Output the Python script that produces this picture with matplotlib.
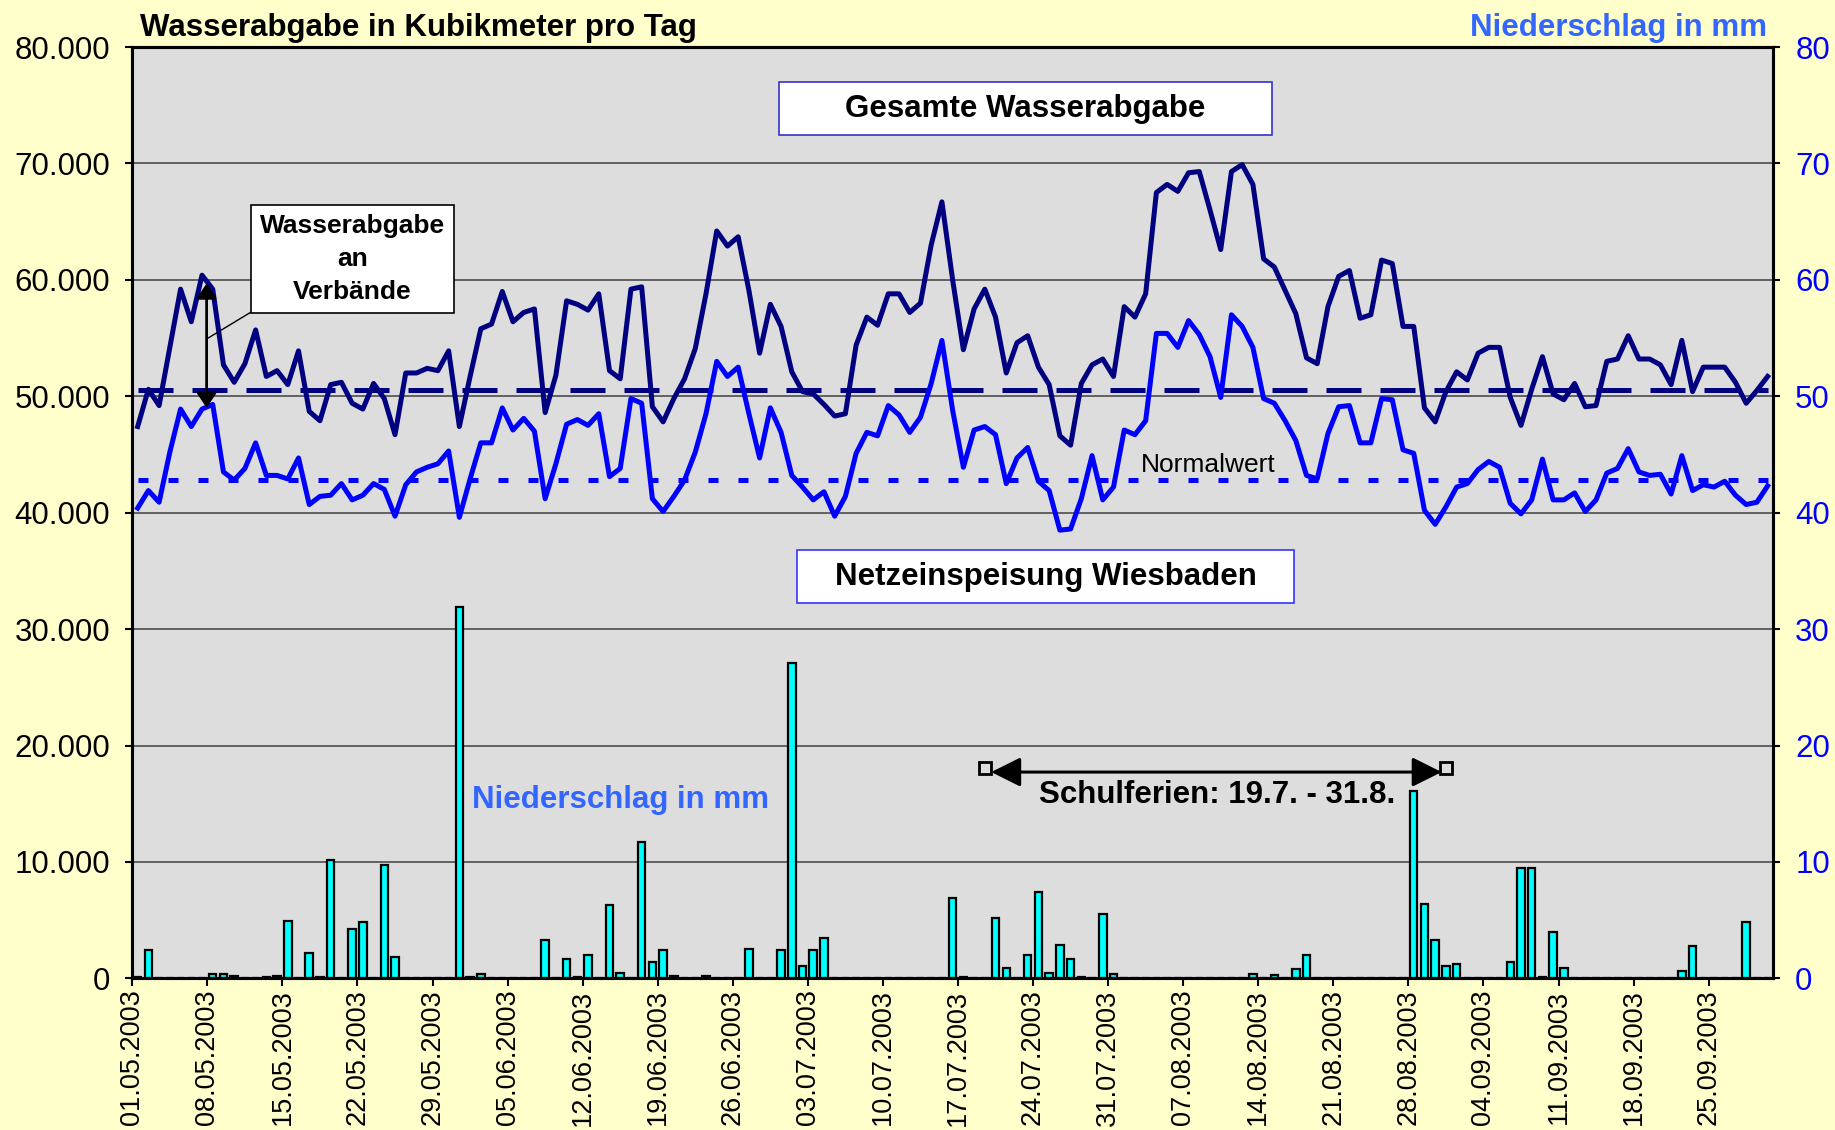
import numpy as np
import pandas as pd
import matplotlib
matplotlib.use('Agg')
import matplotlib.pyplot as plt
from matplotlib.patches import Rectangle, FancyArrowPatch
from matplotlib.ticker import FuncFormatter
from matplotlib.transforms import ScaledTranslation

plt.rcParams['font.family'] = ['Liberation Sans', 'DejaVu Sans']

# daily values 01.05.2003 - 30.09.2003 (one row per week)
gesamt = [
    47400, 50600, 49200, 54200, 59200, 56400, 60400,
    59200, 52700, 51200, 52800, 55700, 51700, 52200,
    51000, 53900, 48700, 47900, 51000, 51200, 49400,
    48900, 51100, 49800, 46700, 52000, 52000, 52400,
    52200, 53900, 47400, 51700, 55800, 56200, 59000,
    56400, 57200, 57500, 48600, 51800, 58200, 57900,
    57400, 58800, 52200, 51500, 59200, 59400, 49100,
    47800, 49800, 51500, 54100, 58800, 64200, 62900,
    63700, 59100, 53700, 57900, 56000, 52100, 50400,
    50200, 49300, 48300, 48500, 54400, 56800, 56100,
    58800, 58800, 57200, 58000, 63000, 66700, 60000,
    54000, 57500, 59200, 56800, 52000, 54600, 55200,
    52500, 51000, 46600, 45800, 51100, 52700, 53200,
    51700, 57700, 56800, 58800, 67500, 68200, 67600,
    69200, 69300, 66000, 62600, 69300, 69900, 68200,
    61800, 61100, 59100, 57100, 53300, 52800, 57700,
    60300, 60800, 56700, 57000, 61700, 61400, 56000,
    56000, 49000, 47800, 50400, 52100, 51400, 53700,
    54200, 54200, 49900, 47500, 50600, 53400, 50200,
    49700, 51100, 49100, 49200, 53000, 53200, 55200,
    53200, 53200, 52700, 51000, 54800, 50400, 52500,
    52500, 52500, 51200, 49400, 50500, 51700,
]

netz = [
    40400, 41900, 40900, 45200, 48900, 47400, 48900,
    49300, 43500, 42800, 43800, 46000, 43200, 43200,
    42900, 44700, 40700, 41400, 41500, 42500, 41100,
    41500, 42500, 42000, 39700, 42400, 43500, 43900,
    44200, 45300, 39600, 42900, 46000, 46000, 49000,
    47100, 48100, 47000, 41200, 44200, 47600, 48000,
    47500, 48500, 43100, 43800, 49800, 49400, 41200,
    40100, 41400, 42800, 45200, 48500, 53000, 51700,
    52500, 48500, 44700, 49000, 46900, 43200, 42200,
    41100, 41800, 39700, 41400, 45100, 46900, 46600,
    49200, 48400, 46900, 48200, 51100, 54800, 48800,
    43900, 47100, 47400, 46700, 42500, 44700, 45600,
    42700, 41900, 38500, 38600, 41200, 44900, 41100,
    42200, 47100, 46700, 47900, 55400, 55400, 54200,
    56500, 55300, 53400, 49900, 57000, 56000, 54200,
    49800, 49400, 47900, 46200, 43200, 42900, 46800,
    49100, 49200, 46000, 46000, 49800, 49700, 45400,
    45100, 40200, 39000, 40500, 42200, 42500, 43700,
    44400, 43900, 40800, 39900, 41100, 44600, 41100,
    41100, 41700, 40100, 41100, 43400, 43800, 45500,
    43500, 43200, 43300, 41600, 44900, 41900, 42400,
    42200, 42700, 41500, 40700, 40900, 42300,
]

niederschlag = [
    0.1, 2.4, 0, 0, 0, 0, 0,
    0.4, 0.4, 0.2, 0, 0, 0.1, 0.2,
    4.9, 0, 2.2, 0.1, 10.2, 0, 4.2,
    4.8, 0, 9.7, 1.8, 0, 0, 0,
    0, 0, 31.9, 0.1, 0.4, 0, 0,
    0, 0, 0, 3.3, 0, 1.7, 0.1,
    2.0, 0, 6.3, 0.5, 0, 11.7, 1.4,
    2.4, 0.2, 0, 0, 0.2, 0, 0,
    0, 2.5, 0, 0, 2.4, 27.1, 1.1,
    2.4, 3.5, 0, 0, 0, 0, 0,
    0, 0, 0, 0, 0, 0, 6.9,
    0.1, 0, 0, 5.2, 0.9, 0, 2.0,
    7.4, 0.5, 2.9, 1.7, 0.1, 0, 5.5,
    0.4, 0, 0, 0, 0, 0, 0,
    0, 0, 0, 0, 0, 0, 0.4,
    0, 0.3, 0, 0.8, 2.0, 0, 0,
    0, 0, 0, 0, 0, 0, 0,
    16.1, 6.4, 3.3, 1.1, 1.2, 0, 0,
    0, 0, 1.4, 9.5, 9.5, 0.1, 4.0,
    0.9, 0, 0, 0, 0, 0, 0,
    0, 0, 0, 0, 0.6, 2.8, 0,
    0, 0, 0, 4.8, 0, 0,
]

normal_gesamt = 50500
normal_netz = 42800
ferien_start = 79   # 19.07.2003
ferien_end = 122    # 31.08.2003

dates = pd.date_range('2003-05-01', periods=len(gesamt), freq='D')
x = np.arange(len(gesamt))

NAVY = '#000080'
BLUE = '#0000FF'
LIGHTBLUE = '#3366FF'

fig = plt.figure(figsize=(18.35, 11.3), dpi=100, facecolor='#FFFFCC')
ax = fig.add_axes([0.0721, 0.1342, 0.8941, 0.8242])
ax.set_facecolor('#DDDDDD')
ax2 = ax.twinx()

# grid
ax.set_ylim(0, 80000)
ax.set_yticks(np.arange(0, 80001, 10000))
ax.yaxis.grid(True, color='#404040', lw=1.1)
ax.set_axisbelow(True)

# lines
ax.plot(x, gesamt, color=NAVY, lw=3.6, zorder=3)
ax.plot(x, netz, color=BLUE, lw=3.6, zorder=3)
ax.plot(x, [normal_gesamt] * len(x), color=NAVY, lw=3.6, dashes=(7, 3.8), zorder=2)
ax.plot(x, [normal_netz] * len(x), color=BLUE, lw=3.6, dashes=(2, 4), zorder=2)

# precipitation bars
ax2.bar(x, niederschlag, width=0.7, color='#00FFFF', edgecolor='black', lw=1.6)
ax2.set_ylim(0, 80)
ax2.set_yticks(np.arange(0, 81, 10))

ax.set_xlim(-0.5, len(x) - 0.5)
ticks = np.arange(0, len(x), 7)
ax.set_xticks(ticks - 0.5)
ax.set_xticklabels([d.strftime('%d.%m.%Y') for d in dates[ticks]], rotation=90)
for lbl in ax.get_xticklabels():
    lbl.set_transform(lbl.get_transform() + ScaledTranslation(3 / 72, 0, fig.dpi_scale_trans))

ax.yaxis.set_major_formatter(FuncFormatter(lambda v, p: f'{v:,.0f}'.replace(',', '.')))
ax.tick_params(axis='y', length=5, width=1.5, pad=11, labelsize=22.5)
ax.tick_params(axis='x', length=6, width=1.5, pad=2, labelsize=19.5)
ax2.tick_params(axis='y', length=5, width=1.5, pad=11, labelsize=22.5, labelcolor=BLUE)

for a in (ax, ax2):
    for s in a.spines.values():
        s.set_linewidth(2.2)
        s.set_color('black')

# titles
fig.text(140 / 1835, 1 - 36 / 1130, 'Wasserabgabe in Kubikmeter pro Tag',
         fontsize=22.5, fontweight='bold', ha='left', va='baseline')
fig.text(1767 / 1835, 1 - 36 / 1130, 'Niederschlag in mm', color=LIGHTBLUE,
         fontsize=22.5, fontweight='bold', ha='right', va='baseline')

# text boxes
def box(x0, y0, x1, y1, text, edge, size, spacing=1.25):
    ax2.add_patch(Rectangle((x0, y0), x1 - x0, y1 - y0, transform=ax.transAxes,
                            facecolor='white', edgecolor=edge, lw=1.2, zorder=5))
    ax2.text((x0 + x1) / 2, (y0 + y1) / 2, text, transform=ax.transAxes,
             ha='center', va='center', fontsize=size, fontweight='bold',
             linespacing=spacing, zorder=6)

box(0.3942, 0.9055, 0.6946, 0.9624, 'Gesamte Wasserabgabe', '#3333CC', 22.5)
box(0.4051, 0.4030, 0.7081, 0.4599, 'Netzeinspeisung Wiesbaden', '#3333FF', 22.5)
box(0.0723, 0.7144, 0.1961, 0.8303, 'Wasserabgabe\nan\nVerbände', 'black', 19, 1.45)

# arrow between the two lines
ax.add_patch(FancyArrowPatch((6.43, 49000), (6.43, 59700), arrowstyle='<|-|>,head_length=0.45,head_width=0.3',
                             mutation_scale=20, color='black', lw=2, shrinkA=0, shrinkB=0, zorder=6))
ax.plot([6.57, 10.58], [55000, 57235], color='black', lw=1, zorder=6)

ax.text(0.6556, 0.544, 'Normalwert', transform=ax.transAxes, fontsize=19,
        ha='center', va='baseline', zorder=6)
ax.text(0.2977, 0.1829, 'Niederschlag in mm', transform=ax.transAxes, fontsize=22.5,
        fontweight='bold', color=LIGHTBLUE, ha='center', va='baseline', zorder=6)

# school holidays
ax2.add_patch(FancyArrowPatch((ferien_start + 0.6, 17.72), (ferien_end - 0.4, 17.72),
                              arrowstyle='<|-|>,head_length=0.9,head_width=0.45',
                              mutation_scale=20, color='black', lw=2.2, shrinkA=0, shrinkB=0, zorder=6))
ax2.plot([ferien_start, ferien_end], [18.1, 18.1], 's', ms=8, mfc='none', mec='black', mew=2, zorder=7)
ax2.text(0.6611, 0.1882, 'Schulferien: 19.7. - 31.8.', transform=ax.transAxes, fontsize=22.5,
         fontweight='bold', ha='center', va='baseline', zorder=6)

fig.savefig('out.png', dpi=100, facecolor=fig.get_facecolor())
